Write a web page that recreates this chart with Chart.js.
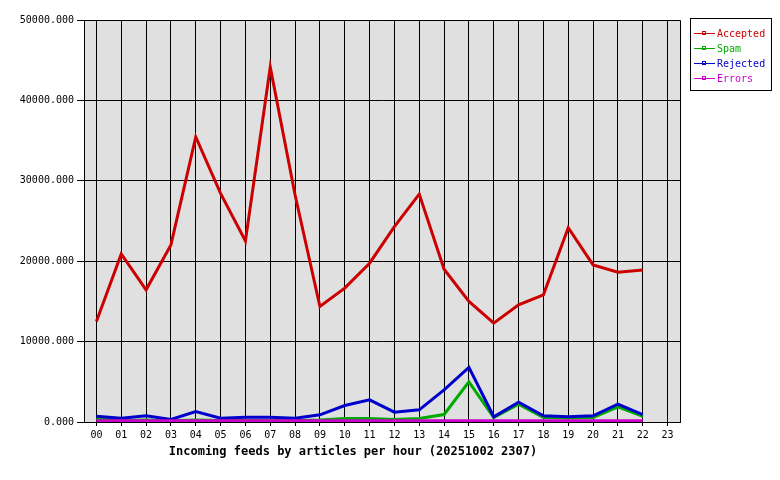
<!DOCTYPE html>
<html>
<head>
<meta charset="utf-8">
<script src="https://cdn.jsdelivr.net/npm/chart.js@4/dist/chart.umd.min.js"></script>
<style>
  html, body { margin: 0; padding: 0; background: #ffffff; }
  #wrap { width: 780px; height: 480px; }
</style>
</head>
<body>
<div id="wrap"><canvas id="c" width="780" height="480"></canvas></div>
<script>
const hours = ["00","01","02","03","04","05","06","07","08","09","10","11","12","13","14","15","16","17","18","19","20","21","22","23"];
const accepted = [12510, 20900, 16440, 22020, 35460, 28440, 22520, 44150, 28230, 14370, 16650, 19750, 24300, 28350, 19000, 14990, 12300, 14580, 15820, 24170, 19540, 18640, 18920];
const spam     = [430, 200, 250, 150, 250, 200, 200, 200, 200, 250, 430, 430, 310, 430, 930, 5000, 550, 2210, 550, 500, 550, 1890, 700];
const rejected = [720, 470, 770, 310, 1300, 470, 600, 600, 470, 890, 2050, 2750, 1220, 1510, 4000, 6800, 650, 2460, 770, 640, 770, 2210, 930];
const errors   = [150, 150, 150, 150, 150, 150, 150, 150, 150, 150, 150, 150, 150, 150, 150, 150, 150, 150, 150, 150, 150, 150, 150];
const yTicks   = [0, 10000, 20000, 30000, 40000, 50000];
const seriesNames = ["Accepted", "Spam", "Rejected", "Errors"];
const seriesColors = ["#cc0000", "#00aa00", "#0000cc", "#cc00cc"];
const xTitle = "Incoming feeds by articles per hour (20251002 2307)";

const MONO = '"DejaVu Sans Mono", "Liberation Mono", monospace';

const plotFrame = {
  id: 'plotFrame',
  beforeDraw(chart) {
    const a = chart.chartArea, ctx = chart.ctx;
    ctx.save();
    ctx.fillStyle = '#e0e0e0';
    ctx.fillRect(a.left, a.top, a.right - a.left, a.bottom - a.top);
    ctx.restore();
  },
  beforeDatasetsDraw(chart) {
    const a = chart.chartArea, ctx = chart.ctx;
    ctx.save();
    ctx.strokeStyle = '#000';
    ctx.lineWidth = 1;
    ctx.beginPath();
    ctx.moveTo(a.left + 0.5, a.top + 0.5);
    ctx.lineTo(a.right + 0.5, a.top + 0.5);
    ctx.lineTo(a.right + 0.5, a.bottom + 0.5);
    ctx.lineTo(a.left + 0.5, a.bottom + 0.5);
    ctx.closePath();
    ctx.stroke();
    ctx.restore();
  }
};

const boxLegend = {
  id: 'boxLegend',
  afterDraw(chart) {
    const ctx = chart.ctx;
    ctx.save();
    ctx.strokeStyle = '#000';
    ctx.lineWidth = 1;
    ctx.strokeRect(690.5, 18.5, 81, 72);
    ctx.font = '10px ' + MONO;
    ctx.textBaseline = 'middle';
    ctx.textAlign = 'left';
    for (let i = 0; i < seriesNames.length; i++) {
      const y = 33 + i * 15;
      ctx.strokeStyle = seriesColors[i];
      ctx.beginPath();
      ctx.moveTo(694, y + 0.5);
      ctx.lineTo(715, y + 0.5);
      ctx.stroke();
      ctx.strokeRect(702.5, y - 1.5, 3, 3);
      ctx.fillStyle = seriesColors[i];
      ctx.fillText(seriesNames[i], 717, y + 1);
    }
    // axis title
    ctx.fillStyle = '#000';
    ctx.font = 'bold 12px ' + MONO;
    ctx.textAlign = 'center';
    ctx.fillText(xTitle, 353, 452);
    ctx.restore();
  }
};

const order = [3, 2, 1, 0];
const seriesData = [accepted, spam, rejected, errors];

new Chart(document.getElementById('c'), {
  type: 'line',
  data: {
    labels: hours,
    datasets: seriesNames.map((n, i) => ({
      label: n,
      data: seriesData[i],
      borderColor: seriesColors[i],
      backgroundColor: seriesColors[i],
      borderWidth: 3,
      pointRadius: 0,
      tension: 0,
      fill: false,
      order: order[i]
    }))
  },
  options: {
    responsive: false,
    animation: false,
    devicePixelRatio: 1,
    layout: { padding: { left: 0, right: 100, top: 20, bottom: 0 } },
    plugins: {
      legend: { display: false },
      tooltip: { enabled: false },
      title: { display: false }
    },
    scales: {
      x: {
        type: 'category',
        offset: true,
        grid: { offset: false, color: '#000', lineWidth: 1, drawTicks: true, tickLength: 4, tickColor: '#000' },
        border: { display: true, color: '#000' },
        ticks: { color: '#000', font: { family: MONO, size: 10 }, padding: 3, maxRotation: 0, autoSkip: false },
        title: { display: false },
        afterFit(scale) { scale.height = 58; }
      },
      y: {
        type: 'linear',
        min: 0,
        max: 50000,
        afterBuildTicks(scale) { scale.ticks = yTicks.map(v => ({ value: v })); },
        grid: { color: '#000', lineWidth: 1, drawTicks: true, tickLength: 7, tickColor: '#000' },
        border: { display: true, color: '#000' },
        ticks: {
          color: '#000',
          font: { family: MONO, size: 10 },
          padding: 3,
          callback: (v) => Number(v).toFixed(3)
        },
        afterFit(scale) { scale.width = 84; }
      }
    }
  },
  plugins: [plotFrame, boxLegend]
});
</script>
</body>
</html>
